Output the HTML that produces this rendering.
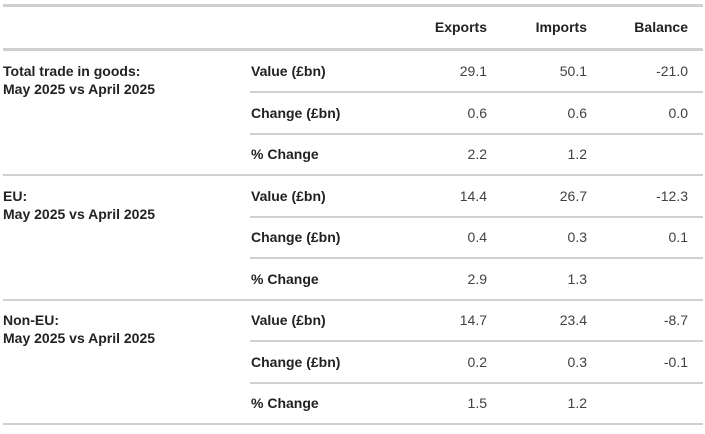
<!DOCTYPE html>
<html><head><meta charset="utf-8"><style>
body{margin:0;width:705px;height:434px;background:#fff;font-family:"Liberation Sans",sans-serif;font-size:14px;color:#323132;position:relative;overflow:hidden}
.a{position:absolute;white-space:nowrap;line-height:18px}
.b{font-weight:bold;color:#222}
.r{text-align:right;color:#414042}
.ln{position:absolute;background:#d0d0d0;height:2px}
</style></head><body>
<div class="ln" style="left:3px;top:4px;width:700px;height:3px"></div>
<div class="a b" style="left:387px;width:100px;text-align:right;top:18px">Exports</div>
<div class="a b" style="left:487px;width:100px;text-align:right;top:18px">Imports</div>
<div class="a b" style="left:588px;width:100px;text-align:right;top:18px">Balance</div>
<div class="ln" style="left:3px;top:48px;width:700px;height:3px"></div>
<script>
const groups=["Total trade in goods:","EU:","Non-EU:"];
const measures=["Value (£bn)","Change (£bn)","% Change"];
const exportsV=[["29.1","0.6","2.2"],["14.4","0.4","2.9"],["14.7","0.2","1.5"]];
const importsV=[["50.1","0.6","1.2"],["26.7","0.3","1.3"],["23.4","0.3","1.2"]];
const balanceV=[["-21.0","0.0",""],["-12.3","0.1",""],["-8.7","-0.1",""]];
function add(cls,style,text,name){const d=document.createElement('div');d.className=cls;d.style.cssText=style;d.textContent=text;


document.body.appendChild(d);return d;}
groups.forEach((g,gi)=>{
 const top=51+gi*124.5;
 const lab=add('a b','left:3px;top:'+(top+11)+'px',g,'group-label');
 lab.innerHTML=g+'<br>May 2025 vs April 2025';
 measures.forEach((m,mi)=>{
  const y=top+mi*41.5+11;
  add('a b','left:251px;top:'+y+'px',m,'row-label');
  add('a r','left:387px;width:100px;top:'+y+'px',exportsV[gi][mi],'exports-value');
  add('a r','left:487px;width:100px;top:'+y+'px',importsV[gi][mi],'imports-value');
  add('a r','left:588px;width:100px;top:'+y+'px',balanceV[gi][mi],'balance-value');
  const ly=top+(mi+1)*41.5-1.5;
  if(mi<2) add('ln','left:250px;width:453px;top:'+ly+'px','','row-divider');
  else add('ln','left:3px;width:700px;top:'+ly+'px','','group-divider');
 });
});
</script>
</body></html>
